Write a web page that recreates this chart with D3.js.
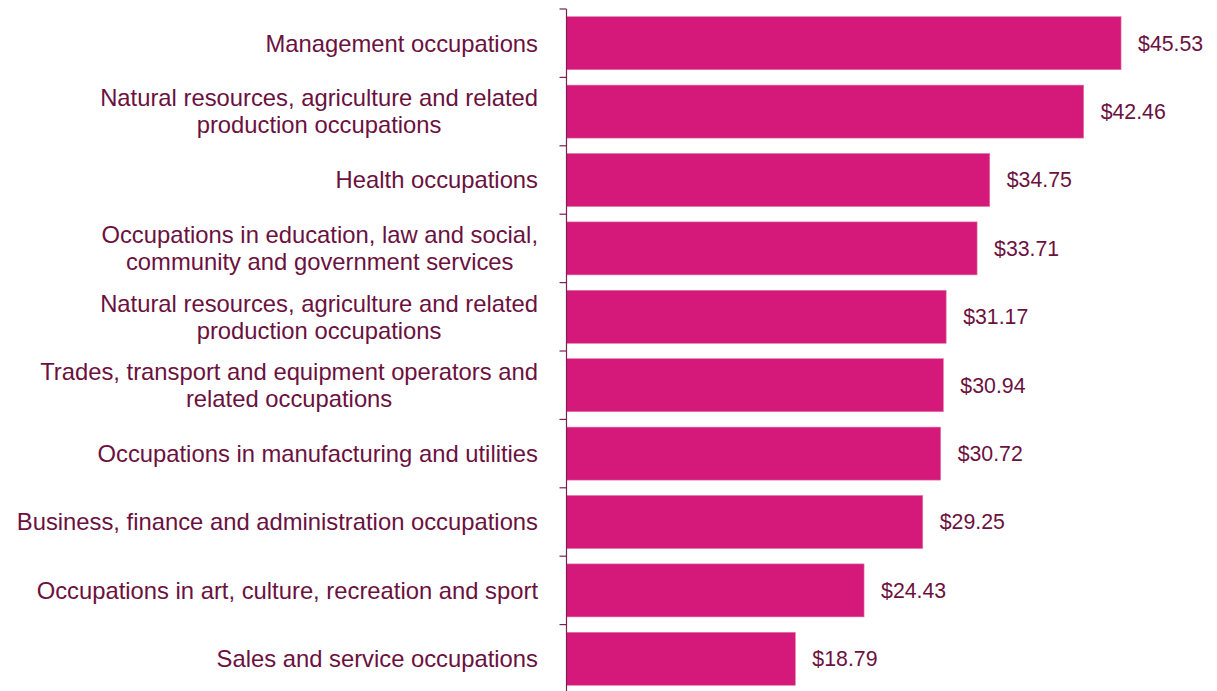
<!DOCTYPE html>
<html><head><meta charset="utf-8">
<script src="https://cdn.jsdelivr.net/npm/d3@7"></script>
<style>body{margin:0;background:#fff}svg{display:block}</style>
</head><body>
<script>
const categories = [
  ["Management occupations"],
  ["Natural resources, agriculture and related", "production occupations"],
  ["Health occupations"],
  ["Occupations in education, law and social,", "community and government services"],
  ["Natural resources, agriculture and related", "production occupations"],
  ["Trades, transport and equipment operators and", "related occupations"],
  ["Occupations in manufacturing and utilities"],
  ["Business, finance and administration occupations"],
  ["Occupations in art, culture, recreation and sport"],
  ["Sales and service occupations"]
];
const values = [45.53, 42.46, 34.75, 33.71, 31.17, 30.94, 30.72, 29.25, 24.43, 18.79];
const valueLabels = ["$45.53","$42.46","$34.75","$33.71","$31.17","$30.94","$30.72","$29.25","$24.43","$18.79"];

const W = 1217, H = 691;
const ax = 566.5;
const textColor = "#6b1140";
const barColor = "#d4197a";
const svg = d3.select("body").append("svg").attr("width", W).attr("height", H);
const idx = d3.range(values.length);
const y = d3.scaleBand().domain(idx).range([9, 693]).paddingInner(0.225).paddingOuter(0.1125);
const x = d3.scaleLinear().domain([0, 50]).range([ax, ax + 609]);

svg.append("g").selectAll("rect").data(idx).join("rect")
  .attr("x", x(0)).attr("y", i => y(i))
  .attr("width", i => x(values[i]) - x(0)).attr("height", y.bandwidth())
  .attr("fill", barColor).attr("stroke", "#e07aa9").attr("stroke-width", 0.6);

const step = y.step();
const g = svg.append("g").attr("stroke", "#7b2050").attr("stroke-width", 1.2);
g.append("line").attr("x1", ax).attr("x2", ax).attr("y1", 9).attr("y2", H);
g.selectAll("line.t").data(d3.range(values.length + 1)).join("line").attr("class","t")
  .attr("x1", ax - 7).attr("x2", ax).attr("y1", i => 9 + i * step).attr("y2", i => 9 + i * step);

const font = "'Liberation Sans', Arial, sans-serif";
const lbl = svg.append("g").attr("font-family", font).attr("font-size", 23.8).attr("fill", textColor);
idx.forEach(i => {
  const lines = categories[i];
  const cy = y(i) + y.bandwidth() / 2;
  const lh = 27;
  const grp = lbl.append("g");
  const texts = lines.map((t, k) => grp.append("text")
      .attr("y", cy + (k - (lines.length - 1) / 2) * lh)
      .attr("dy", "0.35em").attr("text-anchor", "middle").text(t));
  const maxW = d3.max(texts, t => t.node().getComputedTextLength());
  texts.forEach(t => t.attr("x", 538 - maxW / 2));
});

svg.append("g").attr("font-family", font).attr("font-size", 21.3).attr("fill", textColor)
  .selectAll("text").data(idx).join("text")
  .attr("x", i => x(values[i]) + 17).attr("y", i => y(i) + y.bandwidth() / 2)
  .attr("dy", "0.35em").text(i => valueLabels[i]);
</script>
</body></html>
